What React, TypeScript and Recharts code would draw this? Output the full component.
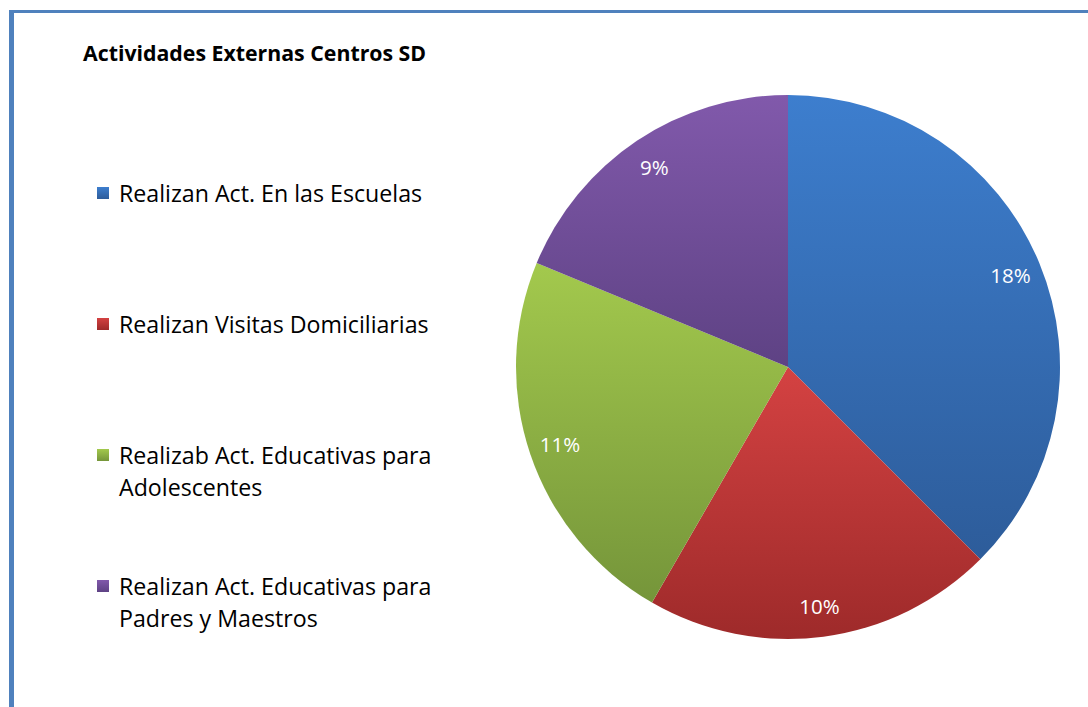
import { PieChart, Pie, Cell, Legend } from "recharts";

const categories = [
  "Realizan Act. En las Escuelas",
  "Realizan Visitas Domiciliarias",
  "Realizab Act. Educativas para Adolescentes",
  "Realizan Act. Educativas para Padres y Maestros",
];
const values = [18, 10, 11, 9];
const gradTop = ["#3D7ECE", "#D44242", "#A3C94D", "#8159AB"];
const gradBottom = ["#2D5C9A", "#9E2A2A", "#75953A", "#5E4284"];

const data = categories.map((name, i) => ({ name, value: values[i] }));

const RADIAN = Math.PI / 180;
const FONT = "'Open Sans', Lato, sans-serif";

// percent label drawn inside each slice, near the rim
const renderLabel = (props: any) => {
  const { cx, cy, midAngle, outerRadius, value } = props;
  const r = outerRadius * 0.885;
  const x = cx + r * Math.cos(-midAngle * RADIAN);
  const y = cy + r * Math.sin(-midAngle * RADIAN);
  return (
    <text x={x} y={y} fill="#fff" fontSize={20.5} fontFamily={FONT} textAnchor="middle" dominantBaseline="central">
      {value}%
    </text>
  );
};

const renderLegend = (props: any) => {
  const payload = [...(props.payload || [])].sort(
    (a: any, b: any) => categories.indexOf(a.value) - categories.indexOf(b.value)
  );
  return (
    <div style={{ fontFamily: FONT, fontSize: 23.2, lineHeight: "32px", color: "#000" }}>
      {payload.map((p: any) => {
        const i = categories.indexOf(p.value);
        return (
          <div key={i} style={{ display: "flex", height: 131, alignItems: "flex-start" }}>
            <svg width={12} height={12} style={{ marginTop: 10, marginRight: 10, flex: "none" }}>
              <rect width={12} height={12} fill={`url(#slice${i})`} />
            </svg>
            <div style={{ width: 335 }}>{p.value}</div>
          </div>
        );
      })}
    </div>
  );
};

export default function App() {
  return (
    <div style={{ position: "absolute", left: 0, top: 0, width: 1088, height: 707, overflow: "hidden", background: "#fff" }}>
      <div
        style={{
          position: "absolute",
          left: 9,
          top: 10,
          width: 1200,
          height: 800,
          borderTop: "3px solid #4F81BD",
          borderLeft: "5px solid #4F81BD",
        }}
      />
      <div style={{ position: "absolute", left: 83, top: 38, fontFamily: FONT, fontWeight: 700, fontSize: 21.3, color: "#000" }}>
        Actividades Externas Centros SD
      </div>
      <div style={{ position: "absolute", left: 0, top: 0 }}>
        <PieChart width={1088} height={707} margin={{ top: 0, right: 0, bottom: 0, left: 0 }}>
          <defs>
            {gradTop.map((c, i) => (
              <linearGradient key={i} id={`slice${i}`} x1="0" y1="0" x2="0" y2="1">
                <stop offset="0%" stopColor={c} />
                <stop offset="100%" stopColor={gradBottom[i]} />
              </linearGradient>
            ))}
          </defs>
          <Pie
            data={data}
            dataKey="value"
            nameKey="name"
            cx={788}
            cy={367}
            outerRadius={272}
            startAngle={90}
            endAngle={-270}
            stroke="none"
            label={renderLabel}
            labelLine={false}
            isAnimationActive={false}
          >
            {data.map((_, i) => (
              <Cell key={i} fill={`url(#slice${i})`} />
            ))}
          </Pie>
          <Legend
            content={renderLegend}
            layout="vertical"
            wrapperStyle={{ position: "absolute", left: 97, top: 177, width: 380 }}
          />
        </PieChart>
      </div>
    </div>
  );
}
